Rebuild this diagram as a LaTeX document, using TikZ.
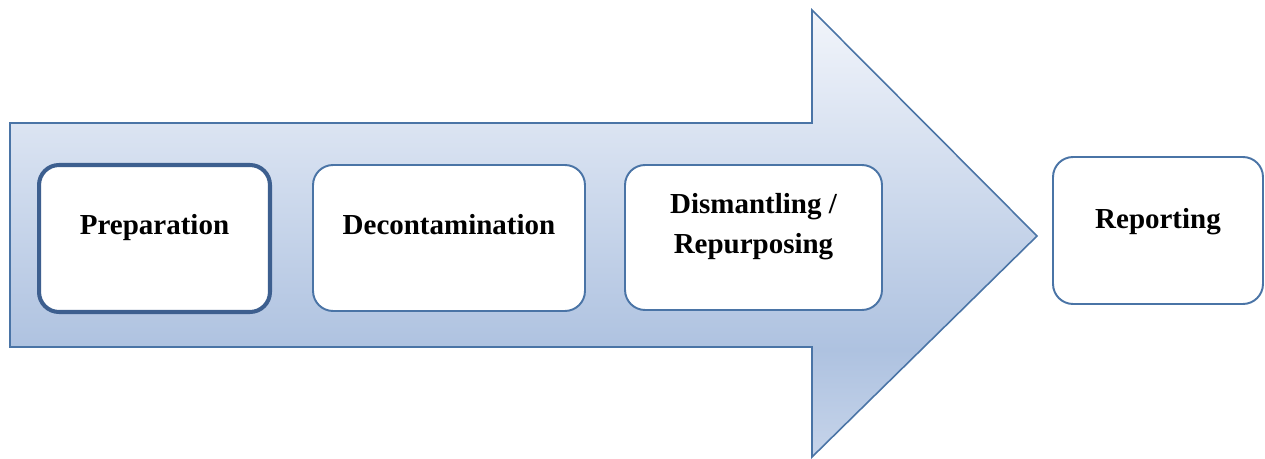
\documentclass[tikz,border=0pt]{standalone}
\usepackage{fontspec}
\setmainfont{Liberation Serif}
\usepackage{xcolor}
\usetikzlibrary{positioning}

\definecolor{edgeblue}{HTML}{4A74A6}
\definecolor{darkedge}{HTML}{3D5F8F}
\definecolor{lightfill}{HTML}{F2F5FB}
\definecolor{deepfill}{HTML}{AEC2E0}
\definecolor{lowfill}{HTML}{C6D4EA}

% the path box is mapped onto 25bp..75bp of the shading
\pgfdeclareverticalshading{arrowfill}{100bp}{color(0bp)=(lowfill); color(25bp)=(lowfill); color(37bp)=(deepfill); color(75bp)=(lightfill); color(100bp)=(lightfill)}

\begin{document}
\begin{tikzpicture}[x=0.02cm, y=-0.02cm,
    stage/.style={rectangle, draw=edgeblue, line width=1.1pt, fill=white, rounded corners=0.4cm, minimum height=2.92cm, inner sep=0pt},
    caption/.style={font=\fontsize{16.5}{22.8}\selectfont\bfseries, align=center, inner sep=0pt},
    flow/.style={draw=edgeblue, line width=0.9pt, shading=arrowfill}]

    \useasboundingbox (0,0) rectangle (1265,459);

    % big process arrow
    \path [flow] (10,123) -- (812,123) -- (812,10) -- (1037,236) -- (812,457) -- (812,347) -- (10,347) -- cycle;

    \node [stage, draw=darkedge, line width=2.3pt, minimum width=4.62cm, minimum height=2.94cm] (prep) at (154.5,238.5) {};
    \node [stage, minimum width=5.44cm] (decon) at (449,238) {};
    \node [stage, minimum width=5.14cm, minimum height=2.9cm] (dism) at (753.5,237.5) {};
    \node [stage, minimum width=4.2cm, minimum height=2.94cm] (report) at (1158,230.5) {};

    \node [caption] (prep-t) at ([yshift=0.21cm]prep.center) {Preparation};
    \node [caption] (decon-t) at ([yshift=0.27cm]decon.center) {Decontamination};
    \node [caption] (dism-t) at ([yshift=0.21cm]dism.center) {Dismantling /\\Repurposing};
    \node [caption] (report-t) at ([yshift=0.18cm]report.center) {Reporting};
\end{tikzpicture}
\end{document}
